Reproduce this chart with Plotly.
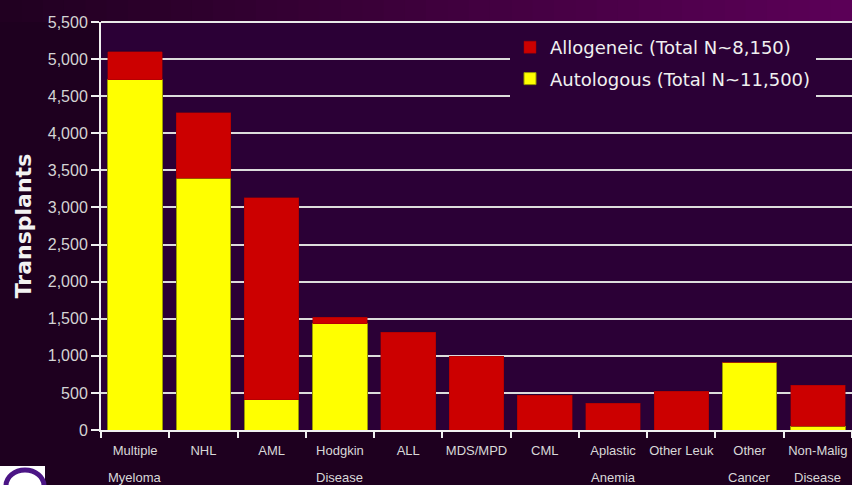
import plotly.graph_objects as go

categories_line1 = ["Multiple", "NHL", "AML", "Hodgkin", "ALL", "MDS/MPD", "CML",
                    "Aplastic", "Other Leuk", "Other", "Non-Malig"]
categories_line2 = ["Myeloma", "", "", "Disease", "", "", "",
                    "Anemia", "", "Cancer", "Disease"]
categories = [a + " " + b if b else a for a, b in zip(categories_line1, categories_line2)]

autologous = [4720, 3395, 405, 1430, 0, 0, 0, 0, 0, 915, 50]
allogeneic = [380, 880, 2725, 90, 1320, 995, 470, 362, 520, 0, 555]

y_ticks = list(range(0, 5501, 500))
y_ticktext = [f"{v:,}" for v in y_ticks]

W, H = 852, 485
L, R, T, B = 101, 0, 22, 55
PLOT_BG = "#2b0036"
PAGE_BG = "#1e001f"
TICKFONT = "Liberation Sans, Arial, sans-serif"

fig = go.Figure()
fig.add_trace(go.Bar(
    x=categories, y=autologous, name="Autologous (Total N~11,500)",
    marker=dict(color="#ffff00", line=dict(color="#9a9a00", width=1)),
    legendgroup="auto", legendrank=2,
))
fig.add_trace(go.Bar(
    x=categories, y=allogeneic, name="Allogeneic (Total N~8,150)",
    marker=dict(color="#cc0000", line=dict(color="#a00000", width=0.5)),
    legendgroup="allo", legendrank=1,
))

pw = W - L - R
ph = H - T - B
def px_x(p):
    return (p - L) / pw
def px_y(p):
    return (H - B - p) / ph

shapes = []
# top gradient strip
N = 40
c0 = (0x20, 0x00, 0x20)
c1 = (0x5c, 0x00, 0x58)
for i in range(N):
    xa = W * i / N
    xb = W * (i + 1) / N + 1
    t = (i + 0.5) / N
    col = "rgb(%d,%d,%d)" % tuple(round(c0[k] + (c1[k] - c0[k]) * t) for k in range(3))
    shapes.append(dict(type="rect", xref="paper", yref="paper",
                       x0=px_x(xa), x1=px_x(xb), y0=1, y1=px_y(0) + 0.01,
                       fillcolor=col, line=dict(width=0), layer="below"))
# top border line
shapes.append(dict(type="line", xref="paper", yref="paper", x0=0, x1=1, y0=1, y1=1,
                   line=dict(color="#e8e8e8", width=2), layer="above"))
# logo
shapes.append(dict(type="rect", xref="paper", yref="paper",
                   x0=px_x(0), x1=px_x(45), y0=px_y(486), y1=px_y(466),
                   fillcolor="white", line=dict(width=0)))
shapes.append(dict(type="circle", xref="paper", yref="paper",
                   x0=px_x(6), x1=px_x(44), y0=px_y(502), y1=px_y(470),
                   fillcolor="rgba(0,0,0,0)", line=dict(color="#4b1585", width=5)))

annotations = []
for cat, l2 in zip(categories, categories_line2):
    if l2:
        annotations.append(dict(x=cat, xref="x", y=px_y(477), yref="paper",
                                text=l2, showarrow=False, yanchor="middle",
                                font=dict(family=TICKFONT, size=13, color="#d8d8d8")))

fig.update_layout(
    width=W, height=H,
    margin=dict(l=L, r=R, t=T, b=B, autoexpand=False),
    paper_bgcolor=PAGE_BG, plot_bgcolor=PLOT_BG,
    barmode="stack", bargap=0.2,
    showlegend=True,
    legend=dict(x=px_x(510), y=px_y(29), xanchor="left", yanchor="top",
                bgcolor=PLOT_BG, traceorder="grouped", tracegroupgap=5,
                font=dict(family="DejaVu Sans", size=18, color="#f0f0f0"),
                itemwidth=30),
    shapes=shapes, annotations=annotations,
    xaxis=dict(
        tickmode="array", tickvals=categories, ticktext=categories_line1,
        tickangle=0,
        tickfont=dict(family=TICKFONT, size=13, color="#d8d8d8"),
        showline=True, linecolor="#f0f0f0", linewidth=2,
        ticks="outside", tickson="boundaries", ticklen=6, tickcolor="#f0f0f0", tickwidth=2,
        showgrid=False, ticklabelstandoff=7,
    ),
    yaxis=dict(
        range=[0, 5500], tickmode="array", tickvals=y_ticks, ticktext=y_ticktext,
        tickfont=dict(family=TICKFONT, size=16, color="#d4d4d4"),
        showline=True, linecolor="#f0f0f0", linewidth=2,
        ticks="outside", ticklen=8, tickcolor="#f0f0f0", tickwidth=2,
        showgrid=True, gridcolor="#dcdcdc", gridwidth=1.5,
        zeroline=False,
        title=dict(text="<b>Transplants</b>", standoff=10,
                   font=dict(family="DejaVu Sans", size=22, color="#f2f2f2")),
    ),
)

fig.write_html("out.html")
